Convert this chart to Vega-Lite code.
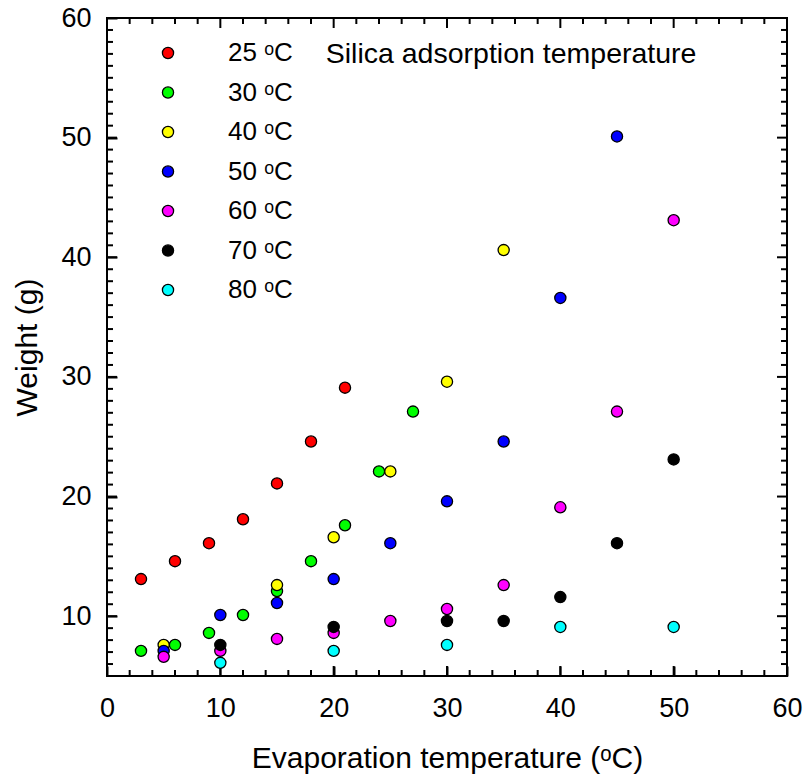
{
  "$schema": "https://vega.github.io/schema/vega-lite/v6.json",
  "width": 680,
  "height": 658,
  "autosize": {"type": "none"},
  "padding": {"left": 107, "top": 18, "right": 19, "bottom": 105},
  "background": "white",
  "config": {
    "view": {"stroke": "black", "strokeWidth": 2},
    "font": "Liberation Sans",
    "axis": {
      "domain": false,
      "grid": false,
      "tickColor": "black",
      "tickWidth": 2,
      "labelFont": "Liberation Sans",
      "labelColor": "black",
      "labelFontSize": 27,
      "labelFlush": false,
      "labelOverlap": false,
      "titleFont": "Liberation Sans",
      "titleColor": "black",
      "titleFontWeight": "normal"
    },
    "legend": {
      "orient": "none",
      "legendX": 48,
      "legendY": 22,
      "padding": 0,
      "labelFont": "Liberation Sans",
      "labelFontSize": 26,
      "labelColor": "black",
      "labelOffset": 47,
      "rowPadding": 13.5,
      "symbolSize": 125,
      "symbolStrokeColor": "black",
      "symbolStrokeWidth": 1.3,
      "symbolType": "circle",
      "labelLimit": 300
    }
  },
  "datasets": {
    "pts": [
      {"s": "25 ᵒC", "x": 3, "y": 13.1},
      {"s": "25 ᵒC", "x": 6, "y": 14.6},
      {"s": "25 ᵒC", "x": 9, "y": 16.1},
      {"s": "25 ᵒC", "x": 12, "y": 18.1},
      {"s": "25 ᵒC", "x": 15, "y": 21.1},
      {"s": "25 ᵒC", "x": 18, "y": 24.6},
      {"s": "25 ᵒC", "x": 21, "y": 29.1},
      {"s": "30 ᵒC", "x": 3, "y": 7.1},
      {"s": "30 ᵒC", "x": 6, "y": 7.6},
      {"s": "30 ᵒC", "x": 9, "y": 8.6},
      {"s": "30 ᵒC", "x": 12, "y": 10.1},
      {"s": "30 ᵒC", "x": 15, "y": 12.1},
      {"s": "30 ᵒC", "x": 18, "y": 14.6},
      {"s": "30 ᵒC", "x": 21, "y": 17.6},
      {"s": "30 ᵒC", "x": 24, "y": 22.1},
      {"s": "30 ᵒC", "x": 27, "y": 27.1},
      {"s": "40 ᵒC", "x": 5, "y": 7.6},
      {"s": "40 ᵒC", "x": 15, "y": 12.6},
      {"s": "40 ᵒC", "x": 20, "y": 16.6},
      {"s": "40 ᵒC", "x": 25, "y": 22.1},
      {"s": "40 ᵒC", "x": 30, "y": 29.6},
      {"s": "40 ᵒC", "x": 35, "y": 40.6},
      {"s": "50 ᵒC", "x": 5, "y": 7.1},
      {"s": "50 ᵒC", "x": 10, "y": 10.1},
      {"s": "50 ᵒC", "x": 15, "y": 11.1},
      {"s": "50 ᵒC", "x": 20, "y": 13.1},
      {"s": "50 ᵒC", "x": 25, "y": 16.1},
      {"s": "50 ᵒC", "x": 30, "y": 19.6},
      {"s": "50 ᵒC", "x": 35, "y": 24.6},
      {"s": "50 ᵒC", "x": 40, "y": 36.6},
      {"s": "50 ᵒC", "x": 45, "y": 50.1},
      {"s": "60 ᵒC", "x": 5, "y": 6.6},
      {"s": "60 ᵒC", "x": 10, "y": 7.1},
      {"s": "60 ᵒC", "x": 15, "y": 8.1},
      {"s": "60 ᵒC", "x": 20, "y": 8.6},
      {"s": "60 ᵒC", "x": 25, "y": 9.6},
      {"s": "60 ᵒC", "x": 30, "y": 10.6},
      {"s": "60 ᵒC", "x": 35, "y": 12.6},
      {"s": "60 ᵒC", "x": 40, "y": 19.1},
      {"s": "60 ᵒC", "x": 45, "y": 27.1},
      {"s": "60 ᵒC", "x": 50, "y": 43.1},
      {"s": "70 ᵒC", "x": 10, "y": 7.6},
      {"s": "70 ᵒC", "x": 20, "y": 9.1},
      {"s": "70 ᵒC", "x": 30, "y": 9.6},
      {"s": "70 ᵒC", "x": 35, "y": 9.6},
      {"s": "70 ᵒC", "x": 40, "y": 11.6},
      {"s": "70 ᵒC", "x": 45, "y": 16.1},
      {"s": "70 ᵒC", "x": 50, "y": 23.1},
      {"s": "80 ᵒC", "x": 10, "y": 6.1},
      {"s": "80 ᵒC", "x": 20, "y": 7.1},
      {"s": "80 ᵒC", "x": 30, "y": 7.6},
      {"s": "80 ᵒC", "x": 40, "y": 9.1},
      {"s": "80 ᵒC", "x": 50, "y": 9.1}
    ],
    "xmaj": [{"x": 10}, {"x": 20}, {"x": 30}, {"x": 40}, {"x": 50}],
    "xmin": [{"x": 2}, {"x": 4}, {"x": 6}, {"x": 8}, {"x": 12}, {"x": 14}, {"x": 16}, {"x": 18}, {"x": 22}, {"x": 24}, {"x": 26}, {"x": 28}, {"x": 32}, {"x": 34}, {"x": 36}, {"x": 38}, {"x": 42}, {"x": 44}, {"x": 46}, {"x": 48}, {"x": 52}, {"x": 54}, {"x": 56}, {"x": 58}],
    "ymaj": [{"y": 10}, {"y": 20}, {"y": 30}, {"y": 40}, {"y": 50}],
    "ymin": [{"y": 6}, {"y": 7}, {"y": 8}, {"y": 9}, {"y": 11}, {"y": 12}, {"y": 13}, {"y": 14}, {"y": 15}, {"y": 16}, {"y": 17}, {"y": 18}, {"y": 19}, {"y": 21}, {"y": 22}, {"y": 23}, {"y": 24}, {"y": 25}, {"y": 26}, {"y": 27}, {"y": 28}, {"y": 29}, {"y": 31}, {"y": 32}, {"y": 33}, {"y": 34}, {"y": 35}, {"y": 36}, {"y": 37}, {"y": 38}, {"y": 39}, {"y": 41}, {"y": 42}, {"y": 43}, {"y": 44}, {"y": 45}, {"y": 46}, {"y": 47}, {"y": 48}, {"y": 49}, {"y": 51}, {"y": 52}, {"y": 53}, {"y": 54}, {"y": 55}, {"y": 56}, {"y": 57}, {"y": 58}, {"y": 59}]
  },
  "layer": [
    {
      "data": {"name": "xmaj"},
      "mark": {"type": "tick", "orient": "vertical", "size": 20, "thickness": 2, "color": "black", "opacity": 1, "clip": true},
      "encoding": {
        "x": {"field": "x", "type": "quantitative", "axis": {"title": "Evaporation temperature (ᵒC)"}},
        "y": {"datum": 5, "type": "quantitative"}
      }
    },
    {
      "data": {"name": "xmaj"},
      "mark": {"type": "tick", "orient": "vertical", "size": 20, "thickness": 2, "color": "black", "opacity": 1, "clip": true},
      "encoding": {
        "x": {"field": "x", "type": "quantitative", "axis": {"title": "Evaporation temperature (ᵒC)"}},
        "y": {"datum": 60, "type": "quantitative"}
      }
    },
    {
      "data": {"name": "xmin"},
      "mark": {"type": "tick", "orient": "vertical", "size": 12, "thickness": 2, "color": "black", "opacity": 1, "clip": true},
      "encoding": {
        "x": {"field": "x", "type": "quantitative", "axis": {"title": "Evaporation temperature (ᵒC)"}},
        "y": {"datum": 5, "type": "quantitative"}
      }
    },
    {
      "data": {"name": "xmin"},
      "mark": {"type": "tick", "orient": "vertical", "size": 12, "thickness": 2, "color": "black", "opacity": 1, "clip": true},
      "encoding": {
        "x": {"field": "x", "type": "quantitative", "axis": {"title": "Evaporation temperature (ᵒC)"}},
        "y": {"datum": 60, "type": "quantitative"}
      }
    },
    {
      "data": {"name": "ymaj"},
      "mark": {"type": "tick", "orient": "horizontal", "size": 20, "thickness": 2, "color": "black", "opacity": 1, "clip": true},
      "encoding": {
        "y": {"field": "y", "type": "quantitative", "axis": {"title": "Weight (g)"}},
        "x": {"datum": 0, "type": "quantitative"}
      }
    },
    {
      "data": {"name": "ymaj"},
      "mark": {"type": "tick", "orient": "horizontal", "size": 20, "thickness": 2, "color": "black", "opacity": 1, "clip": true},
      "encoding": {
        "y": {"field": "y", "type": "quantitative", "axis": {"title": "Weight (g)"}},
        "x": {"datum": 60, "type": "quantitative"}
      }
    },
    {
      "data": {"name": "ymin"},
      "mark": {"type": "tick", "orient": "horizontal", "size": 12, "thickness": 2, "color": "black", "opacity": 1, "clip": true},
      "encoding": {
        "y": {"field": "y", "type": "quantitative", "axis": {"title": "Weight (g)"}},
        "x": {"datum": 0, "type": "quantitative"}
      }
    },
    {
      "data": {"name": "ymin"},
      "mark": {"type": "tick", "orient": "horizontal", "size": 12, "thickness": 2, "color": "black", "opacity": 1, "clip": true},
      "encoding": {
        "y": {"field": "y", "type": "quantitative", "axis": {"title": "Weight (g)"}},
        "x": {"datum": 60, "type": "quantitative"}
      }
    },
    {
      "data": {"name": "pts"},
      "mark": {"type": "point", "filled": true, "stroke": "black", "strokeWidth": 1.3, "size": 125, "opacity": 1},
      "encoding": {
        "x": {
          "field": "x", "type": "quantitative",
          "scale": {"domain": [0, 60], "nice": false, "zero": false},
          "axis": {"orient": "bottom", "values": [0, 10, 20, 30, 40, 50, 60], "tickSize": -10, "labelPadding": 29, "title": "Evaporation temperature (ᵒC)", "titleFontSize": 30, "titlePadding": 22}
        },
        "y": {
          "field": "y", "type": "quantitative",
          "scale": {"domain": [5, 60], "nice": false, "zero": false},
          "axis": {"orient": "left", "values": [10, 20, 30, 40, 50, 60], "tickSize": -10, "labelPadding": 26, "title": "Weight (g)", "titleFontSize": 30, "titlePadding": 18}
        },
        "color": {
          "field": "s", "type": "nominal",
          "scale": {
            "domain": ["25 ᵒC", "30 ᵒC", "40 ᵒC", "50 ᵒC", "60 ᵒC", "70 ᵒC", "80 ᵒC"],
            "range": ["#ff0000", "#00ff00", "#ffff00", "#0000ff", "#ff00ff", "#000000", "#00ffff"]
          },
          "legend": {"title": null}
        }
      }
    },
    {
      "data": {"values": [{}]},
      "mark": {"type": "text", "align": "left", "baseline": "middle", "fontSize": 28.5, "font": "Liberation Sans", "color": "black"},
      "encoding": {
        "x": {"datum": 19.3, "type": "quantitative"},
        "y": {"datum": 57, "type": "quantitative"},
        "text": {"value": "Silica adsorption temperature"}
      }
    }
  ]
}
